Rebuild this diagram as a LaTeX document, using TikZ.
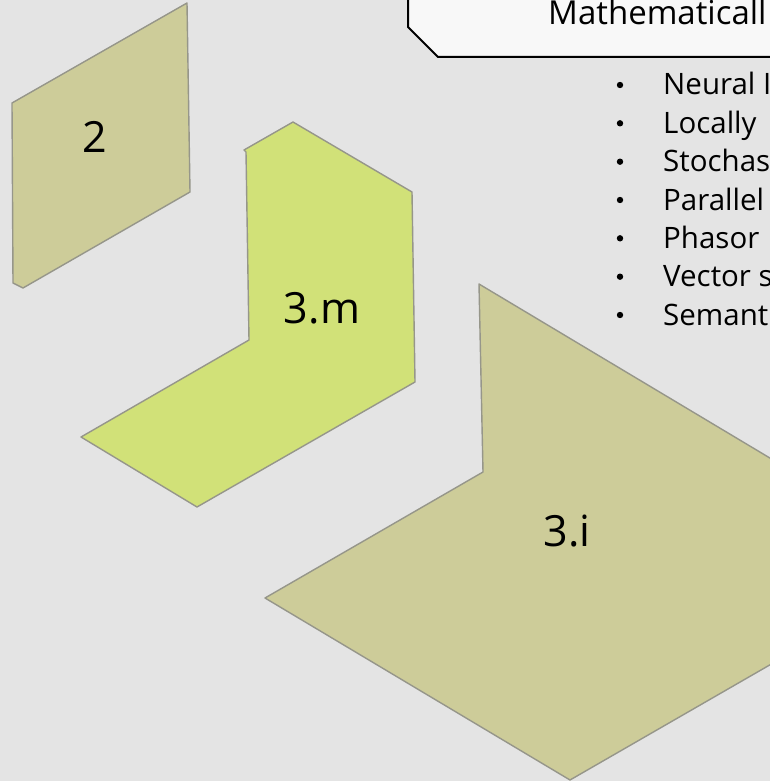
\documentclass[tikz,border=0pt]{standalone}
\usepackage{fontspec}
\setmainfont{Open Sans}
\definecolor{bgray}{RGB}{228,228,228}
\definecolor{khaki}{RGB}{205,204,153}
\definecolor{lime}{RGB}{209,225,120}
\definecolor{edgegray}{RGB}{150,150,138}
\definecolor{boxfill}{RGB}{248,248,248}
\tikzset{
  facet/.style={draw=edgegray, line width=1.4pt, line join=round},
  facetlabel/.style={font=\fontsize{43}{50}\selectfont, text=black, inner sep=0pt},
  itemtext/.style={font=\fontsize{29.5}{34}\selectfont, anchor=base west, inner sep=0pt},
  itembullet/.style={circle, fill=black, minimum size=6.4pt, inner sep=0pt},
}
\begin{document}
\begin{tikzpicture}[x=1pt, y=-1pt]
\useasboundingbox (0,0) rectangle (770,781);
\clip (0,0) rectangle (770,781);
\fill[bgray] (0,0) rectangle (770,781);

% plane 2
\filldraw[facet, fill=khaki] (12,103) -- (187,3) -- (190,192) -- (23,288) -- (13,283) -- cycle;
\node[facetlabel] (l2) at (95,137) {2};

% bent sheet 3.m
\filldraw[facet, fill=lime] (244,150) -- (293,122) -- (412,192) -- (415,382)
  -- (197,507) -- (81,437) -- (249,340) -- (246,152) -- cycle;
\node[facetlabel] (l3m) at (322,308) {3.m};

% bent sheet 3.i
\filldraw[facet, fill=khaki] (479,284) -- (820,488) -- (820,636) -- (570,780)
  -- (265,598) -- (483,472) -- cycle;
\node[facetlabel] (l3i) at (567,531) {3.i};

% callout box
\filldraw[draw=black, line width=2pt, fill=boxfill] (408,-10) -- (408,27) -- (438,57)
  -- (790,57) -- (790,-10) -- cycle;
\node[font=\fontsize{33}{38}\selectfont, anchor=base west, inner sep=0pt] (title) at (548,25) {Mathematicall};

% list
\foreach \y/\t [count=\i] in {95/Neural I, 133.3/Locally, 171.7/Stochas, 210/Parallel,
    248.3/Phasor, 286.7/Vector s, 325/Semant}{
  \node[itembullet] (b\i) at (620,\y-10) {};
  \node[itemtext] (t\i) at (663,\y) {\t};
}
\end{tikzpicture}
\end{document}
